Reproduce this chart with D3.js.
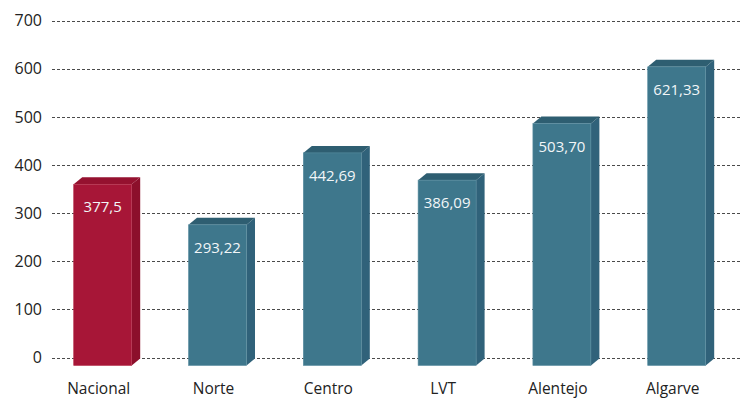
<!DOCTYPE html>
<html>
<head>
<meta charset="utf-8">
<script src="https://cdn.jsdelivr.net/npm/d3@7"></script>
<style>
	body { margin: 0; background: #fff; }
	svg text { font-family: "Open Sans", "Noto Sans", sans-serif; }
</style>
</head>
<body>
<div id="chart"></div>
<script>
// ----------------------------------
// DATA
// ----------------------------------
const categories = ['Nacional', 'Norte', 'Centro', 'LVT', 'Alentejo', 'Algarve'];
const values = [377.5, 293.22, 442.69, 386.09, 503.70, 621.33];
const valueLabels = ['377,5', '293,22', '442,69', '386,09', '503,70', '621,33'];
const yTicks = [0, 100, 200, 300, 400, 500, 600, 700];

const width = 742,
	height = 400,
	depthX = 8.5,
	depthY = 7;

const svg = d3.select('#chart')
	.append('svg')
	.attr('width', width)
	.attr('height', height);

// ----------------------------------
// SCALES
// ----------------------------------
const xScale = d3.scaleBand()
	.domain(categories)
	.range([41.3, 730.1])
	.padding(0);

const yScale = d3.scaleLinear()
	.domain([0, 700])
	.range([357.5, 20.5]);

// gridlines
svg.append('g')
	.selectAll('line')
	.data(yTicks)
	.join('line')
	.attr('x1', 52)
	.attr('x2', 740)
	.attr('y1', d => Math.round(yScale(d)) + 0.5)
	.attr('y2', d => Math.round(yScale(d)) + 0.5)
	.attr('stroke', '#4a4a4a')
	.attr('stroke-width', 1)
	.attr('stroke-dasharray', '3,2');

// y axis labels
svg.append('g')
	.selectAll('text')
	.data(yTicks)
	.join('text')
	.attr('x', 42)
	.attr('y', d => yScale(d))
	.attr('dy', '0.36em')
	.attr('text-anchor', 'end')
	.attr('font-size', 16)
	.attr('fill', '#222')
	.text(d => d);

// x axis labels
svg.append('g')
	.selectAll('text')
	.data(categories)
	.join('text')
	.attr('x', d => xScale(d) + xScale.bandwidth() / 2)
	.attr('y', 394)
	.attr('text-anchor', 'middle')
	.attr('font-size', 15.5)
	.attr('fill', '#222')
	.text(d => d);

// ----------------------------------
// 3D BARS
// ----------------------------------
const colors = {
	red: { front: '#a71637', side: '#8c0f2b', top: '#95112f', edge: '#b8324f' },
	teal: { front: '#3e778c', side: '#30627a', top: '#2e5e71', edge: '#5a8ea1' }
};

const bars = svg.append('g')
	.selectAll('g')
	.data(categories)
	.join('g');

bars.each(function(cat, i) {
	const g = d3.select(this),
		c = i === 0 ? colors.red : colors.teal,
		frontW = 58,
		x0 = xScale(cat) + xScale.bandwidth() / 2 - 25,
		x1 = x0 + frontW,
		backTop = yScale(values[i]) + 1.5,
		backBottom = yScale(0) + 1,
		yTop = backTop + depthY,
		yBottom = backBottom + depthY;

	// side face
	g.append('path')
		.attr('d', `M${x1},${yTop} L${x1 + depthX},${backTop} L${x1 + depthX},${backBottom} L${x1},${yBottom} Z`)
		.attr('fill', c.side);

	// top face
	g.append('path')
		.attr('d', `M${x0},${yTop} L${x0 + depthX},${backTop} L${x1 + depthX},${backTop} L${x1},${yTop} Z`)
		.attr('fill', c.top);

	// front face
	g.append('rect')
		.attr('x', x0)
		.attr('y', yTop)
		.attr('width', frontW)
		.attr('height', yBottom - yTop)
		.attr('fill', c.front)
		.attr('stroke', c.edge)
		.attr('stroke-width', 0.6);

	g.append('text')
		.attr('x', x0 + frontW / 2)
		.attr('y', yTop + 28)
		.attr('text-anchor', 'middle')
		.attr('font-size', 15)
		.attr('fill', '#f2f6f8')
		.text(valueLabels[i]);
});
</script>
</body>
</html>
